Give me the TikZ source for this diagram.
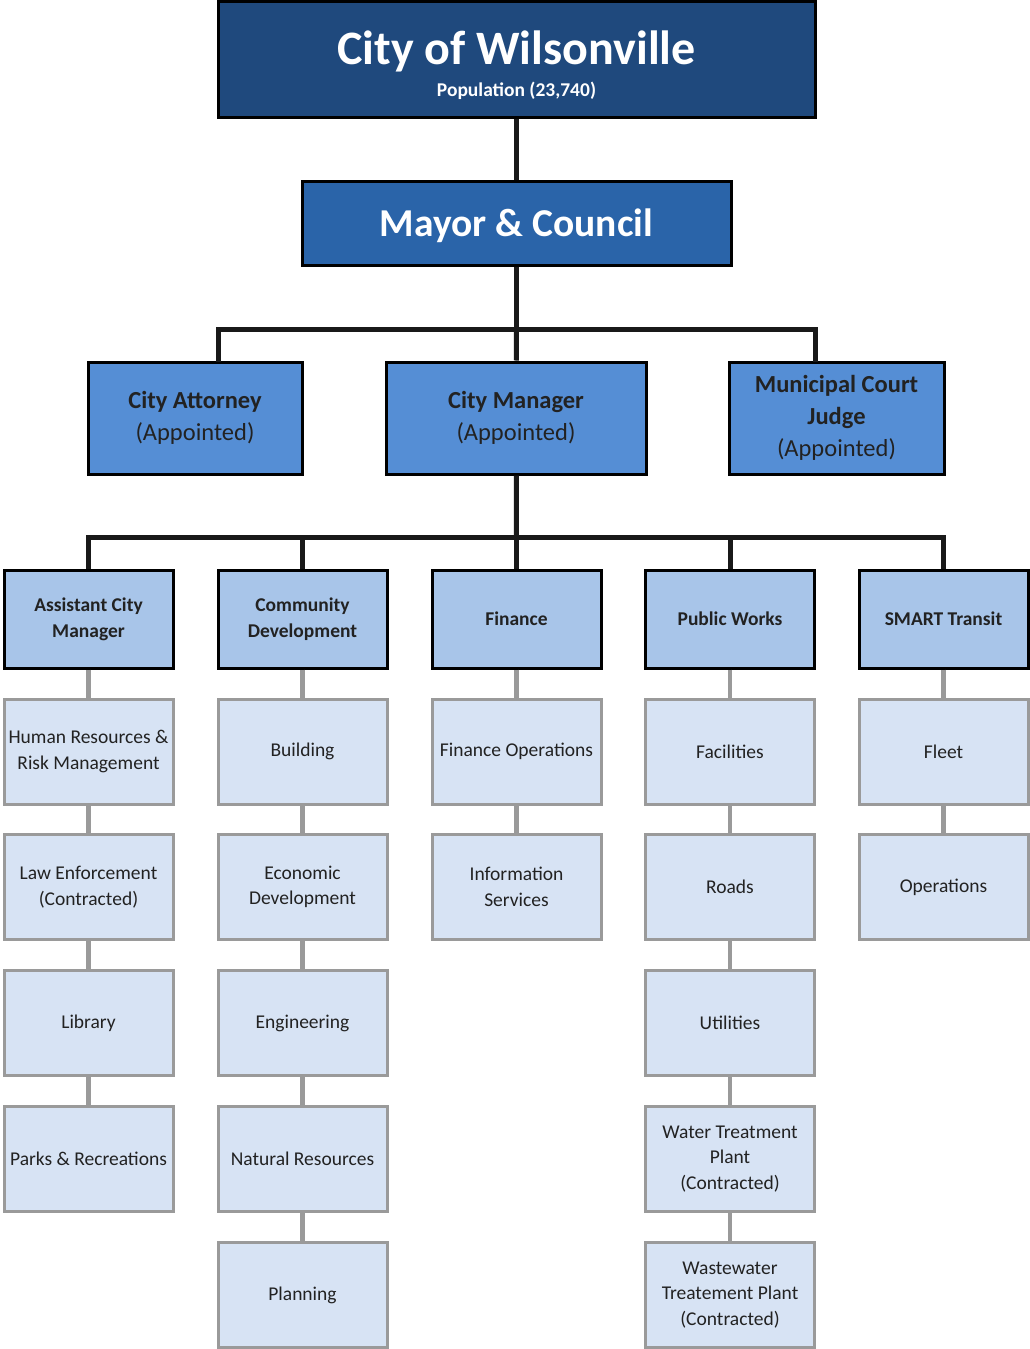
\documentclass[tikz,border=0pt]{standalone}
\usepackage{fontspec}
\setmainfont{Carlito}
\definecolor{cdark}{HTML}{1F497D}
\definecolor{cmayor}{HTML}{2A64A9}
\definecolor{cthree}{HTML}{558ED5}
\definecolor{cfour}{HTML}{A8C5E9}
\definecolor{csub}{HTML}{D7E3F4}
\definecolor{cgray}{HTML}{9A9A9A}
\definecolor{ctext}{HTML}{222222}
\begin{document}
\begin{tikzpicture}[x=1pt,y=-1pt,
  box/.style={draw=black, line width=3pt, align=center, inner sep=0pt},
  topbox/.style={box, fill=cdark, text=white, minimum width=597pt, minimum height=116pt},
  mayorbox/.style={box, fill=cmayor, text=white, minimum width=429pt, minimum height=84pt, font=\bfseries\fontsize{39.5}{42}\selectfont},
  threebox/.style={box, fill=cthree, text=ctext, minimum height=112pt, font=\fontsize{24.5}{32}\selectfont},
  fourbox/.style={box, fill=cfour, text=ctext, minimum width=169pt, minimum height=98pt, font=\bfseries\fontsize{19.5}{26}\selectfont},
  subbox/.style={draw=cgray, line width=3pt, fill=csub, text=ctext, align=center, inner sep=0pt, minimum width=169pt, minimum height=105pt, font=\fontsize{19.5}{25.5}\selectfont},
  conn/.style={draw=black!90, line width=5pt},
  gconn/.style={draw=cgray, line width=4.5pt}
]
\useasboundingbox (0,0) rectangle (1029,1349);

% nodes
\node[topbox] (top) at (516.5,59) {\rule{0pt}{46pt}{\bfseries\fontsize{48}{52}\selectfont City of Wilsonville}\\[9pt]{\bfseries\fontsize{19.5}{20}\selectfont Population (23,740)}};
\node[mayorbox] (mayor) at (516.5,223) {\rule{0pt}{33pt}Mayor \& Council};

\node[threebox, minimum width=214pt] (att) at (195,418) {\textbf{City Attorney}\\(Appointed)};
\node[threebox, minimum width=260pt] (mgr) at (516,418) {\textbf{City Manager}\\(Appointed)};
\node[threebox, minimum width=215pt] (mun) at (836.5,418) {\textbf{Municipal Court}\\\textbf{Judge}\\(Appointed)};

\node[fourbox] (acm) at (88.5,619) {Assistant City\\Manager};
\node[fourbox] (cd) at (302.5,619) {Community\\Development};
\node[fourbox] (fin) at (516.5,619) {Finance};
\node[fourbox] (pw) at (730,619) {Public Works};
\node[fourbox] (st) at (943.5,619) {SMART Transit};

\node[subbox] (hr) at (88.5,751.5) {Human Resources \&\\Risk Management};
\node[subbox] (law) at (88.5,887) {Law Enforcement\\(Contracted)};
\node[subbox] (lib) at (88.5,1023) {Library};
\node[subbox] (parks) at (88.5,1159) {Parks \& Recreations};

\node[subbox] (bld) at (302.5,751.5) {Building};
\node[subbox] (eco) at (302.5,887) {Economic\\Development};
\node[subbox] (eng) at (302.5,1023) {Engineering};
\node[subbox] (nat) at (302.5,1159) {Natural Resources};
\node[subbox] (plan) at (302.5,1295) {Planning};

\node[subbox] (fops) at (516.5,751.5) {Finance Operations};
\node[subbox] (info) at (516.5,887) {Information\\Services};

\node[subbox] (fac) at (730,751.5) {Facilities};
\node[subbox] (roads) at (730,887) {Roads};
\node[subbox] (util) at (730,1023) {Utilities};
\node[subbox] (water) at (730,1159) {Water Treatment\\Plant\\(Contracted)};
\node[subbox] (waste) at (730,1295) {Wastewater\\Treatement Plant\\(Contracted)};

\node[subbox] (fleet) at (943.5,751.5) {Fleet};
\node[subbox] (ops) at (943.5,887) {Operations};

% junctions
\coordinate (j1) at (516.5,329);
\coordinate (attc) at (218,362);
\coordinate (munc) at (815,362);
\coordinate (j2) at (516.5,537);

% black connectors
\draw[conn] (top) -- (mayor);
\draw[conn] (mayor) -- (j1);
\draw[conn] (attc) |- (j1) -| (munc);
\draw[conn] (j1) -- (mgr);
\draw[conn] (mgr) -- (j2);
\draw[conn] (acm.north) |- (j2) -| (st.north);
\draw[conn] (cd.north) -- (cd.north |- j2);
\draw[conn] (pw.north) -- (pw.north |- j2);
\draw[conn] (j2) -- (fin);

% gray connectors
\draw[gconn] (acm) -- (hr);
\draw[gconn] (hr) -- (law);
\draw[gconn] (law) -- (lib);
\draw[gconn] (lib) -- (parks);
\draw[gconn] (cd) -- (bld);
\draw[gconn] (bld) -- (eco);
\draw[gconn] (eco) -- (eng);
\draw[gconn] (eng) -- (nat);
\draw[gconn] (nat) -- (plan);
\draw[gconn] (fin) -- (fops);
\draw[gconn] (fops) -- (info);
\draw[gconn] (pw) -- (fac);
\draw[gconn] (fac) -- (roads);
\draw[gconn] (roads) -- (util);
\draw[gconn] (util) -- (water);
\draw[gconn] (water) -- (waste);
\draw[gconn] (st) -- (fleet);
\draw[gconn] (fleet) -- (ops);
\end{tikzpicture}
\end{document}
